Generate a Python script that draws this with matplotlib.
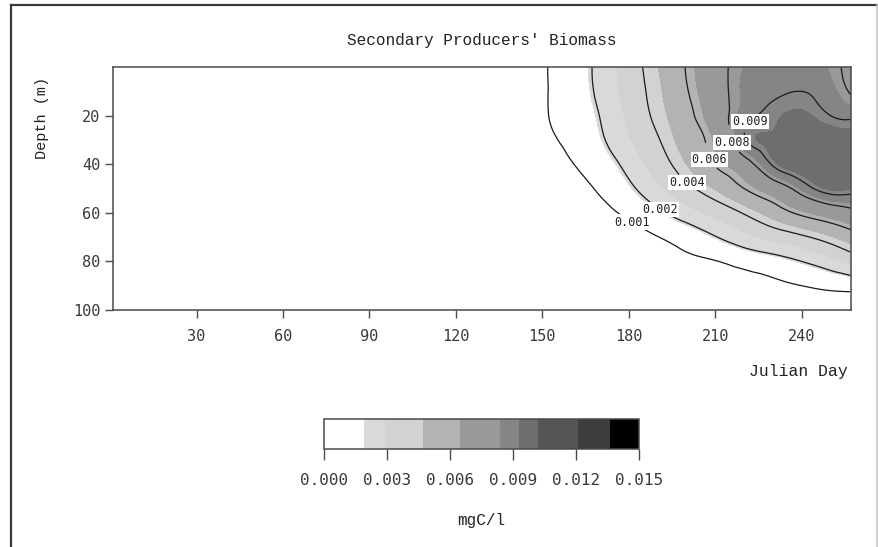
import numpy as np
import matplotlib
matplotlib.use("Agg")
import matplotlib.pyplot as plt
import matplotlib.tri as mtri
from matplotlib.lines import Line2D

# grid of the model output: Julian day (columns) x depth in m (rows)
days = [140, 150, 160, 170, 180, 190, 200, 210, 220, 230, 240, 250, 257]
depths = [0, 10, 20, 30, 40, 50, 60, 70, 80, 90, 100]

# secondary producers' biomass, in 1e-3 mgC/l (zero before day 140)
biomass_milli = [
    [0, 0.87, 1.50, 2.25, 3.40, 4.67, 6.07, 7.50, 8.40, 8.70, 8.70, 8.30, 7.70],
    [0, 0.87, 1.45, 2.20, 3.30, 4.50, 5.90, 7.40, 8.50, 8.90, 9.00, 8.60, 7.90],
    [0, 0.85, 1.40, 2.02, 3.10, 4.30, 5.60, 7.20, 8.70, 9.20, 9.40, 9.00, 8.85],
    [0, 0.70, 1.23, 1.85, 2.80, 3.90, 5.20, 6.70, 8.90, 9.40, 9.70, 9.70, 9.60],
    [0, 0.40, 0.95, 1.50, 2.30, 3.40, 4.70, 6.10, 7.40, 9.10, 9.70, 9.90, 9.90],
    [0, 0.20, 0.60, 1.12, 1.80, 2.70, 3.70, 4.80, 6.00, 7.20, 8.50, 9.40, 9.30],
    [0, 0.00, 0.30, 0.70, 1.20, 1.80, 2.50, 3.20, 4.10, 5.20, 6.30, 7.10, 7.60],
    [0, 0.00, 0.10, 0.30, 0.60, 0.98, 1.40, 1.95, 2.60, 3.20, 3.80, 4.60, 5.30],
    [0, 0.00, 0.00, 0.10, 0.25, 0.50, 0.80, 0.97, 1.30, 1.60, 2.00, 2.60, 3.20],
    [0, 0.00, 0.00, 0.00, 0.10, 0.20, 0.30, 0.50, 0.60, 0.80, 1.00, 1.20, 1.30],
    [0, 0.00, 0.00, 0.00, 0.00, 0.00, 0.00, 0.05, 0.10, 0.20, 0.30, 0.40, 0.50],
]

fill_levels = [0.0, 0.0019, 0.0029, 0.0047, 0.0065, 0.0084, 0.0093, 0.0102, 0.0121, 0.0136, 0.015]
fill_colors = ["#ffffff", "#d9d9d9", "#d2d2d2", "#b3b3b3", "#999999",
               "#858585", "#6e6e6e", "#555555", "#3d3d3d", "#000000"]
line_levels = [0.001, 0.002, 0.004, 0.006, 0.008, 0.009]
# where the contour values get written (day, depth)
label_spots = [(181, 64), (191, 57), (200, 48.5), (207, 40.5), (215, 32.5), (222.5, 25.5)]

cbar_ticks = [0.0, 0.003, 0.006, 0.009, 0.012, 0.015]
day_ticks = [30, 60, 90, 120, 150, 180, 210, 240]
depth_ticks = [20, 40, 60, 80, 100]

SERIF_MONO = "Liberation Mono"
SANS_MONO = "DejaVu Sans Mono"
AXIS_GRAY = "#4a4a4a"

W, H = 879, 547
fig = plt.figure(figsize=(W / 100, H / 100), dpi=100)

ax = fig.add_axes([113 / W, 1 - 310 / H, 737.7 / W, 243 / H])
X, Y = np.meshgrid(days, depths)
Z = np.array(biomass_milli) * 1e-3

# smooth contouring of the coarse model grid
tri = mtri.Triangulation(X.ravel(), Y.ravel())
refiner = mtri.UniformTriRefiner(tri)
tri_fine, z_fine = refiner.refine_field(Z.ravel(), subdiv=3)

cf = ax.tricontourf(tri_fine, z_fine, levels=fill_levels, colors=fill_colors)
cs = ax.tricontour(tri_fine, z_fine, levels=line_levels, colors="#1a1a1a", linewidths=0.9)
labels = ax.clabel(cs, fmt="%.3f", inline=True, inline_spacing=2,
                   manual=label_spots, fontsize=8.5)
for t in labels:
    t.set_rotation(0)
    t.set_fontfamily(SANS_MONO)
    t.set_color("#222222")
    t.set_bbox(dict(facecolor="white", edgecolor="none", pad=0.8))

ax.set_xlim(1, 257)
ax.set_ylim(100, 0)
ax.set_xticks(day_ticks)
ax.set_yticks(depth_ticks)
ax.tick_params(direction="out", length=6, width=1, color=AXIS_GRAY,
               labelcolor="#3a3a3a", labelsize=11)
ax.tick_params(axis="x", pad=8)
ax.tick_params(axis="y", pad=3)
for lab in ax.get_xticklabels() + ax.get_yticklabels():
    lab.set_fontfamily(SANS_MONO)
for sp in ax.spines.values():
    sp.set_color(AXIS_GRAY)
    sp.set_linewidth(1.1)

ax.set_xlabel("Julian Day", fontfamily=SERIF_MONO, fontsize=11.8, color="#222222")
ax.xaxis.set_label_coords(0.996, -0.255)
ax.xaxis.label.set_ha("right")
ax.xaxis.label.set_va("center")
ax.set_ylabel("Depth (m)", fontfamily=SERIF_MONO, fontsize=11, color="#222222")
ax.yaxis.set_label_coords(-0.096, 0.79)
ax.yaxis.label.set_va("center")

fig.text(481.5 / W, 1 - 40 / H, "Secondary Producers' Biomass", ha="center", va="center",
         fontfamily=SERIF_MONO, fontsize=11.6, color="#222222")

# colour key
cax = fig.add_axes([324 / W, 1 - 449 / H, 315 / W, 30 / H])
cb = fig.colorbar(cf, cax=cax, orientation="horizontal", spacing="proportional",
                  ticks=cbar_ticks)
cb.set_ticklabels([f"{v:.3f}" for v in cbar_ticks])
cb.outline.set_edgecolor(AXIS_GRAY)
cb.outline.set_linewidth(1.1)
cax.tick_params(direction="out", length=8, width=1, color=AXIS_GRAY,
                labelcolor="#3a3a3a", labelsize=11.5, pad=9)
for lab in cax.get_xticklabels():
    lab.set_fontfamily(SANS_MONO)
cb.set_label("mgC/l", fontfamily=SERIF_MONO, fontsize=11.5, color="#222222")
cax.xaxis.set_label_coords(0.5, -2.37)
cax.xaxis.label.set_va("center")

# page frame
fig.add_artist(Line2D([11 / W, 1], [1 - 5 / H, 1 - 5 / H], transform=fig.transFigure,
                      color="#3a3a3a", linewidth=1.6))
fig.add_artist(Line2D([11 / W, 11 / W], [0, 1 - 5 / H], transform=fig.transFigure,
                      color="#3a3a3a", linewidth=1.6))
fig.add_artist(Line2D([877.5 / W, 877.5 / W], [0, 1 - 5 / H], transform=fig.transFigure,
                      color="#c8c8c8", linewidth=1.2))

fig.savefig("out.png", dpi=100)
